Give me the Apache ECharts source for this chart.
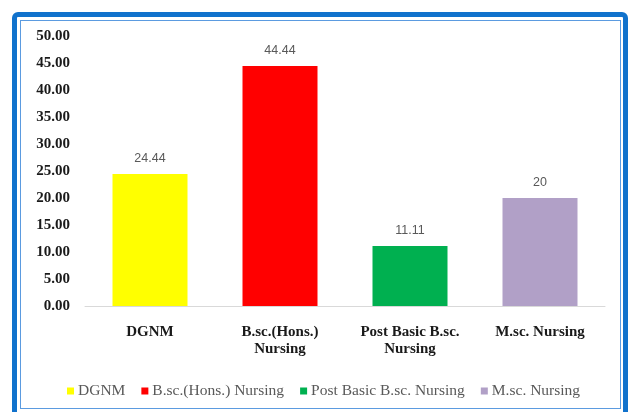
<!DOCTYPE html>
<html><head><meta charset="utf-8">
<script src="https://cdn.jsdelivr.net/npm/echarts@6/dist/echarts.min.js"></script>
<style>
html,body{margin:0;padding:0;background:#fff;width:630px;height:412px;overflow:hidden;}
#outer{position:absolute;left:12px;top:12px;width:606px;height:410px;border:5px solid #1172cc;border-radius:6px 6px 0 0;box-sizing:content-box;}
#inner{position:absolute;left:20px;top:20px;width:599px;height:387px;border:1.5px solid #5b9be0;}
#c{position:absolute;left:0;top:0;width:630px;height:412px;}
</style></head>
<body>
<div id="outer"></div><div id="inner"></div>
<div id="c"></div>
<script>
const categories = ['DGNM', 'B.sc.(Hons.)\nNursing', 'Post Basic B.sc.\nNursing', 'M.sc. Nursing'];
const seriesNames = ['DGNM', 'B.sc.(Hons.) Nursing', 'Post Basic B.sc. Nursing', 'M.sc. Nursing'];
const values = [24.44, 44.44, 11.11, 20];
const colors = ['#ffff00', '#ff0000', '#00b050', '#b1a0c7'];

const chart = echarts.init(document.getElementById('c'));
const series = seriesNames.map((name, i) => ({
  name: name,
  type: 'bar',
  stack: 'all',
  barWidth: 75,
  itemStyle: { color: colors[i] },
  label: {
    show: true, position: 'top', distance: 9,
    color: '#595959', fontFamily: 'Liberation Sans', fontSize: 12.5,
    formatter: p => String(p.value)
  },
  data: categories.map((c, j) => j === i ? values[i] : null)
}));
chart.setOption({
  animation: false,
  backgroundColor: 'transparent',
  grid: { left: 85, right: 25, top: 36, bottom: 106, containLabel: false },
  xAxis: {
    type: 'category', data: categories,
    axisLine: { show: true, lineStyle: { color: '#d9d9d9', width: 1 } },
    axisTick: { show: false },
    axisLabel: { color: '#1a1a1a', fontFamily: 'Liberation Serif', fontWeight: 'bold', fontSize: 15, lineHeight: 17, margin: 18, interval: 0 }
  },
  yAxis: {
    type: 'value', min: 0, max: 50, interval: 5,
    axisLine: { show: false }, axisTick: { show: false },
    splitLine: { show: false },
    axisLabel: { color: '#1a1a1a', fontFamily: 'Liberation Serif', fontWeight: 'bold', fontSize: 15, margin: 15,
      formatter: v => v.toFixed(2) }
  },
  legend: {
    data: seriesNames, bottom: 8, left: 62,
    itemWidth: 7, itemHeight: 7, itemGap: 16, icon: 'rect',
    textStyle: { color: '#595959', fontFamily: 'Liberation Serif', fontSize: 15.5, padding: [0,0,0,-1] }
  },
  series: series
});
</script>
</body></html>
